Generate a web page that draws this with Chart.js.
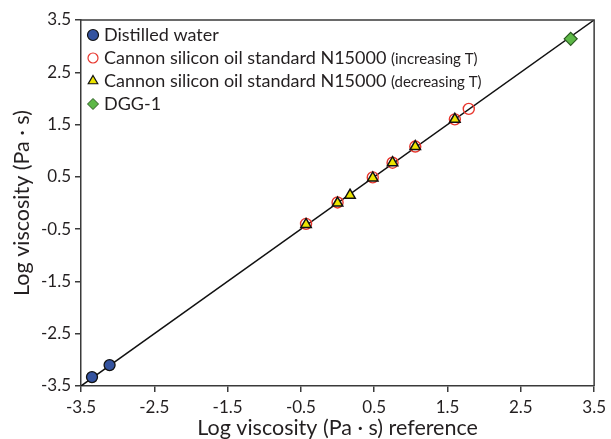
<!DOCTYPE html>
<html>
<head>
<meta charset="utf-8">
<script src="https://cdn.jsdelivr.net/npm/chart.js@4.4.1/dist/chart.umd.min.js"></script>
<style>
  html, body { margin: 0; padding: 0; background: #fff; }
  #wrap { width: 611px; height: 439px; }
</style>
</head>
<body>
<div id="wrap"><canvas id="chart" width="611" height="439"></canvas></div>
<script>
// values
const waterX = [-3.35, -3.11];
const waterY = [-3.33, -3.10];
const incX = [-0.43, 0.0, 0.48, 0.75, 1.06, 1.60, 1.79];
const incY = [-0.40, 0.01, 0.49, 0.77, 1.08, 1.60, 1.80];
const decX = [-0.43, 0.0, 0.17, 0.48, 0.75, 1.06, 1.60];
const decY = [-0.41, 0.0, 0.15, 0.48, 0.77, 1.08, 1.60];
const dggX = [3.18];
const dggY = [3.14];
const lineX = [-3.5, 3.5];
const tickValues = [-3.5, -2.5, -1.5, -0.5, 0.5, 1.5, 2.5, 3.5];

const FONT = 'Lato';
const TXT = '#231f20';
const AXIS = '#3a3a3a';

function pts(xs, ys) {
    return xs.map((x, i) => ({ x: x, y: ys[i] }));
}

// legend rows: marker + main text + small note
const legendRows = [
    { label: 'Distilled water', note: '', style: 'circle', fill: '#34539f', stroke: '#111', r: 5.5, bw: 1.2 },
    { label: 'Cannon silicon oil standard N15000', note: '(increasing T)', style: 'circle', fill: 'rgba(0,0,0,0)', stroke: '#e8362d', r: 5, bw: 1.2 },
    { label: 'Cannon silicon oil standard N15000', note: '(decreasing T)', style: 'triangle', fill: '#ece400', stroke: '#111', r: 5.5, bw: 1.2 },
    { label: 'DGG-1', note: '', style: 'rectRot', fill: '#5db847', stroke: '#2a5a20', r: 5.5, bw: 1 }
];

const legendPlugin = {
    id: 'ownLegend',
    afterDraw(chart) {
        const ctx = chart.ctx;
        ctx.save();
        legendRows.forEach((row, i) => {
            const y = 35 + i * 23;
            ctx.fillStyle = row.fill;
            ctx.strokeStyle = row.stroke;
            ctx.lineWidth = row.bw;
            Chart.helpers.drawPoint(ctx, { pointStyle: row.style, radius: row.r, rotation: 0, borderWidth: row.bw }, 93, y);
            ctx.fillStyle = TXT;
            ctx.textBaseline = 'middle';
            ctx.textAlign = 'left';
            ctx.font = '18px ' + FONT;
            ctx.fillText(row.label, 104, y);
            if (row.note) {
                const w = ctx.measureText(row.label + ' ').width;
                ctx.font = '15px ' + FONT;
                ctx.fillText(row.note, 104 + w, y + 1);
            }
        });
        ctx.restore();
    }
};

// top and right edges of the frame
const framePlugin = {
    id: 'frame',
    afterDraw(chart) {
        const a = chart.chartArea;
        const ctx = chart.ctx;
        ctx.save();
        ctx.strokeStyle = AXIS;
        ctx.lineWidth = 1.5;
        ctx.beginPath();
        ctx.moveTo(a.left, a.top);
        ctx.lineTo(a.right, a.top);
        ctx.lineTo(a.right, a.bottom);
        ctx.stroke();
        ctx.restore();
    }
};

function axisOpts(title, isX) {
    return {
        type: 'linear',
        min: -3.5,
        max: 3.5,
        afterBuildTicks: s => { s.ticks = tickValues.map(v => ({ value: v })); },
        afterFit: s => { if (isX) s.height = 53; else s.width = 81; },
        ticks: {
            callback: v => v.toFixed(1),
            color: TXT,
            font: { family: FONT, size: 17 },
            padding: isX ? 5 : 4,
            autoSkip: false,
            maxRotation: 0
        },
        grid: { drawOnChartArea: false, tickLength: 6, color: AXIS, lineWidth: 1.5 },
        border: { color: AXIS, width: 1.5 },
        title: {
            display: true,
            text: title,
            color: TXT,
            font: { family: FONT, size: 21.5, lineHeight: 1 },
            padding: isX ? 0 : { top: 11, bottom: 0 }
        }
    };
}

const ctx = document.getElementById('chart').getContext('2d');
new Chart(ctx, {
    type: 'scatter',
    data: {
        datasets: [
            { label: 'Distilled water', data: pts(waterX, waterY), pointStyle: 'circle', pointRadius: 5.5, backgroundColor: '#34539f', borderColor: '#111', borderWidth: 1.3 },
            { label: 'DGG-1', data: pts(dggX, dggY), pointStyle: 'rectRot', pointRadius: 6.5, backgroundColor: '#5db847', borderColor: '#2a5a20', borderWidth: 1.2 },
            { label: 'decreasing T', data: pts(decX, decY), pointStyle: 'triangle', pointRadius: 6, backgroundColor: '#ece400', borderColor: '#111', borderWidth: 1.5 },
            { label: 'increasing T', data: pts(incX, incY), pointStyle: 'circle', pointRadius: 5.5, backgroundColor: 'rgba(255,255,255,0)', borderColor: '#e8362d', borderWidth: 1.4 },
            { label: '1:1', data: pts(lineX, lineX), showLine: true, pointRadius: 0, borderColor: '#111', borderWidth: 1.5 }
        ]
    },
    options: {
        responsive: false,
        animation: false,
        devicePixelRatio: 1,
        layout: { padding: { top: 20, right: 16, left: 0, bottom: 0 } },
        plugins: {
            legend: { display: false },
            tooltip: { enabled: false }
        },
        scales: {
            x: axisOpts('Log viscosity (Pa · s) reference', true),
            y: axisOpts('Log viscosity (Pa · s)', false)
        }
    },
    plugins: [framePlugin, legendPlugin]
});
</script>
</body>
</html>
